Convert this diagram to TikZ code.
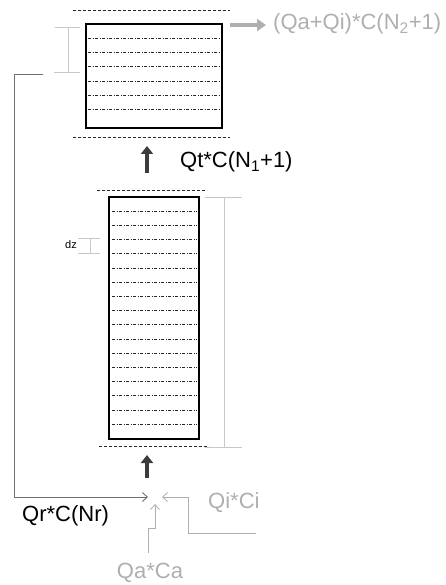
\documentclass[tikz,border=0pt]{standalone}
\usepackage{fontspec}
\setmainfont{Liberation Sans}
\usetikzlibrary{arrows.meta}
\definecolor{lblgray}{RGB}{175,175,175}
\definecolor{brgray}{RGB}{200,200,200}
\definecolor{loopgray}{RGB}{110,110,110}
\definecolor{flowdark}{RGB}{60,60,60}
\tikzset{
  column/.style={draw=black, line width=2.4pt, minimum width=#1, inner sep=0pt},
  layer/.style={line width=0.8pt, dash pattern=on 3pt off 1.5pt on 1pt off 1.5pt, black!85},
  level/.style={line width=0.8pt, dash pattern=on 3pt off 2pt, black!85},
  bracket/.style={brgray, line width=0.9pt},
  flow/.style={flowdark, line width=3.4pt, -{Triangle[length=8pt,width=12pt]}},
  outflow/.style={lblgray, line width=3.8pt, -{Triangle[length=9pt,width=12pt]}},
  feed/.style={lblgray, line width=0.8pt, -{Straight Barb[length=5pt,width=9pt]}},
  recycle/.style={loopgray, line width=0.9pt, -{Straight Barb[length=5pt,width=9pt]}},
  lbl/.style={font=\fontsize{22}{25}\selectfont, inner sep=0pt},
}
\begin{document}
\begin{tikzpicture}[x=1pt,y=-1pt]
\useasboundingbox (0,0) rectangle (446,585);

% settling column (upper) and reactor column (lower)
\node[column=136pt, minimum height=104pt] (top) at (154,76) {};
\node[column=90pt, minimum height=242pt] (bed) at (154,318) {};

% layer divisions
\foreach \k in {1,...,6}
  \draw[layer] (88,{24+\k*14.3}) -- (220,{24+\k*14.3});
\foreach \k in {1,...,16}
  \draw[layer] (112,{197+\k*14.2}) -- (197,{197+\k*14.2});

% liquid levels
\draw[level] (73,10) -- (230,10);
\draw[level] (73,137) -- (230,137);
\draw[level] (97,190) -- (207,190);
\draw[level] (99,446) -- (209,446);

% height brackets
\draw[bracket] (55,27) -- (80,27) (68,27) -- (68,72) (54,72) -- (80,72);
\draw[bracket] (205,197) -- (242,197) (224,197) -- (224,447) (205,447) -- (242,447);
\draw[bracket] (78,238) -- (100,238) (90,238) -- (90,253) (78,253) -- (100,253);
\node[font=\fontsize{11}{12}\selectfont, anchor=east, inner sep=0pt] (dz) at (77,245) {dz};

% flows between units
\coordinate (mixA) at (147,478);
\coordinate (mixB) at (147,455);
\draw[flow] (mixA) -- (mixB);
\coordinate (midA) at (147,173);
\coordinate (midB) at (147,146);
\draw[flow] (midA) -- (midB);
\node[lbl, anchor=west] (qt) at (180,162) {Qt*C(N\textsubscript{1}+1)};

% effluent
\coordinate (outA) at (230,25);
\coordinate (outB) at (266,25);
\draw[outflow] (outA) -- (outB);
\node[lbl, anchor=west, text=lblgray] (qout) at (273,24) {(Qa+Qi)*C(N\textsubscript{2}+1)};

% recycle loop
\coordinate (recA) at (43,74);
\coordinate (mixL) at (148,497);
\draw[recycle] (recA) -- (14,74) |- (mixL);
\node[lbl, anchor=west] (qr) at (22,516) {Qr*C(Nr)};

% fresh feeds
\coordinate (inI) at (256,533);
\coordinate (mixR) at (162,497);
\draw[feed] (inI) -- (188,533) |- (mixR);
\node[lbl, anchor=west, text=lblgray] (qi) at (208,503) {Qi*Ci};

\coordinate (inA) at (148,553);
\coordinate (mixD) at (155,504);
\draw[feed] (inA) -- (148,528) -- (155,528) -- (mixD);
\node[lbl, text=lblgray] (qa) at (150,573) {Qa*Ca};
\end{tikzpicture}
\end{document}
